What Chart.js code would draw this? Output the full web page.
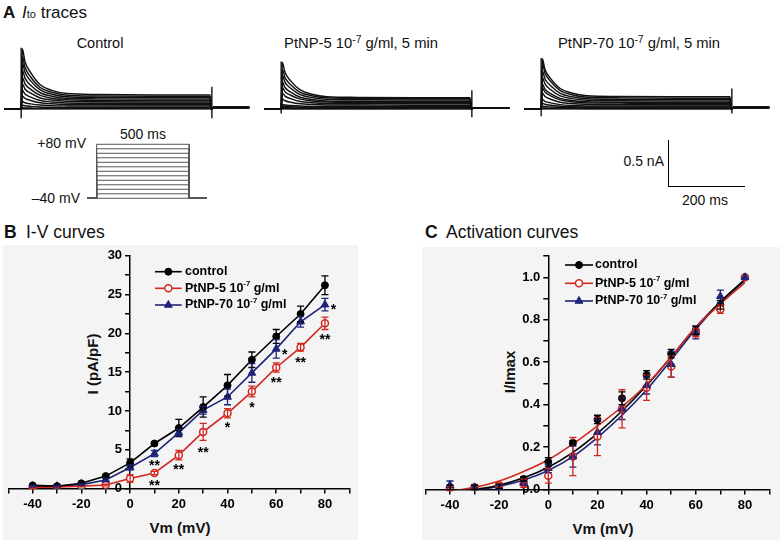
<!DOCTYPE html>
<html>
<head>
<meta charset="utf-8">
<script src="https://cdn.jsdelivr.net/npm/chart.js@4.4.1/dist/chart.umd.min.js"></script>
<style>
  body { margin: 0; width: 780px; height: 540px; background: #fff; position: relative; overflow: hidden;
         font-family: "Liberation Sans", Arial, sans-serif; color: #111; }
  .t { position: absolute; white-space: nowrap; line-height: 1; }
  .c { transform: translate(-50%, -50%); }
  .r { transform: translate(-100%, -50%); }
  .l { transform: translate(0, -50%); }
  .rot { transform: translate(-50%, -50%) rotate(-90deg); font-weight: bold; font-size: 15px; }
  .ax { font-weight: bold; font-size: 15px; }
  canvas { position: absolute; }
  .bg { position: absolute; background: #f4f4f4; }
  sup { font-size: 0.7em; vertical-align: 0; position: relative; top: -0.5em; }
</style>
</head>
<body>
<div class="bg" style="left:3px;top:245px;width:355px;height:295px"></div>
<div class="bg" style="left:422px;top:247px;width:358px;height:293px"></div>

<div class="t l" style="left:3px;top:12px;font-size:17px"><b>A</b> <i style="margin-left:2px">I</i><span style="font-size:11px">to</span> traces</div>
<div class="t c" style="left:100px;top:43px;font-size:14.5px">Control</div>
<div class="t c" style="left:361px;top:43px;font-size:14.8px">PtNP-5 10<sup>-7</sup> g/ml, 5 min</div>
<div class="t c" style="left:639px;top:43px;font-size:14.8px">PtNP-70 10<sup>-7</sup> g/ml, 5 min</div>
<div class="t r" style="left:86px;top:142.5px;font-size:14px">+80 mV</div>
<div class="t r" style="left:80px;top:198px;font-size:14px">&ndash;40 mV</div>
<div class="t c" style="left:143px;top:134px;font-size:14px">500 ms</div>
<div class="t r" style="left:664px;top:160.5px;font-size:14px">0.5 nA</div>
<div class="t c" style="left:705px;top:199.5px;font-size:14px">200 ms</div>

<div class="t l" style="left:4px;top:233px;font-size:17.5px"><b>B</b></div>
<div class="t l" style="left:26px;top:233px;font-size:17.5px">I-V curves</div>
<div class="t l" style="left:425px;top:233px;font-size:17.5px"><b>C</b></div>
<div class="t l" style="left:446px;top:233px;font-size:17.5px">Activation curves</div>
<div class="t rot" style="left:92px;top:364px">I (pA/pF)</div>
<div class="t c ax" style="left:180px;top:526.5px">Vm (mV)</div>
<div class="t rot" style="left:509px;top:372px">I/Imax</div>
<div class="t c ax" style="left:603px;top:528px">Vm (mV)</div>

<script>
// Dữ liệu
const VM = [-40, -30, -20, -10, 0, 10, 20, 30, 40, 50, 60, 70, 80];

// B: đường I-V (pA/pF)
const IV_CONTROL = [0.4, 0.3, 0.67, 1.6, 3.3, 5.8, 7.8, 10.5, 13.3, 16.6, 19.6, 22.5, 26.2];
const IV_CONTROL_SEM = [0.1, 0.1, 0.1, 0.2, 0.5, 0.2, 1.1, 1.3, 1.4, 1.0, 0.9, 1.0, 1.2];
const IV_PT5 = [0.1, 0.2, 0.3, 0.45, 1.3, 2.0, 4.3, 7.3, 9.7, 12.5, 15.6, 18.2, 21.3];
const IV_PT5_SEM = [0.1, 0.1, 0.1, 0.1, 0.5, 0.2, 0.6, 1.1, 0.6, 0.7, 0.6, 0.5, 0.8];
const IV_PT70 = [0.3, 0.3, 0.5, 1.1, 2.7, 4.5, 7.2, 10.1, 11.8, 14.9, 18.0, 21.5, 23.7];
const IV_PT70_SEM = [0.1, 0.1, 0.1, 0.2, 0.3, 0.4, 0.4, 0.5, 1.0, 1.2, 1.2, 0.7, 0.8];

// dấu sao ý nghĩa thống kê
const STAR_VM = [10, 10, 20, 30, 40, 50, 60, 63.5, 70, 83.5, 80];
const STAR_I = [3.3, 0.7, 2.8, 5.0, 8.2, 10.8, 14.0, 17.6, 16.6, 23.5, 19.6];
const STAR_TXT = ['**', '**', '**', '**', '*', '*', '**', '*', '**', '*', '**'];

// C: đường hoạt hóa (I/Imax)
const ACT_CONTROL = [0.01, 0.01, 0.015, 0.05, 0.13, 0.22, 0.33, 0.43, 0.54, 0.64, 0.75, 0.87, 1.0];
const ACT_CONTROL_SEM = [0.01, 0.01, 0.01, 0.01, 0.02, 0.01, 0.02, 0.03, 0.02, 0.02, 0.02, 0.02, 0];
const ACT_PT5 = [0.005, 0.01, 0.02, 0.03, 0.065, 0.155, 0.25, 0.38, 0.48, 0.58, 0.74, 0.85, 1.0];
const ACT_PT5_SEM = [0.01, 0.01, 0.01, 0.02, 0.035, 0.09, 0.09, 0.09, 0.06, 0.05, 0.02, 0.02, 0];
const ACT_PT70 = [0.02, 0.01, 0.01, 0.03, 0.1, 0.155, 0.27, 0.38, 0.49, 0.59, 0.74, 0.91, 1.0];
const ACT_PT70_SEM = [0.02, 0.01, 0.01, 0.01, 0.02, 0.05, 0.06, 0.05, 0.04, 0.06, 0.03, 0.03, 0];
// đường fit
const FIT_CONTROL = [-0.015, 0.0, 0.02, 0.055, 0.105, 0.175, 0.265, 0.37, 0.49, 0.625, 0.765, 0.885, 0.99];
const FIT_PT5 = [-0.01, 0.01, 0.04, 0.085, 0.14, 0.215, 0.3, 0.39, 0.495, 0.625, 0.765, 0.875, 0.975];
const FIT_PT70 = [-0.02, -0.005, 0.015, 0.045, 0.09, 0.155, 0.245, 0.35, 0.47, 0.61, 0.755, 0.88, 0.985];

// A: dòng Ito (nA) tại các thời điểm (ms)
const TRACE_T = [3, 10, 25, 50, 80, 120, 200, 350, 495];
const TRACE_CONTROL = [
  [0, 0, 0, 0, 0, 0, 0, 0, 0],
  [.004, .004, .003, .003, .003, .003, .003, .003, .003],
  [.012, .010, .009, .007, .007, .006, .006, .006, .006],
  [.04, .033, .027, .021, .018, .016, .015, .015, .015],
  [.08, .066, .054, .041, .035, .032, .030, .03, .03],
  [.14, .113, .091, .066, .055, .048, .046, .045, .045],
  [.2, .161, .127, .091, .074, .064, .061, .06, .06],
  [.27, .215, .169, .118, .095, .081, .077, .075, .075],
  [.34, .27, .21, .145, .115, .098, .093, .09, .09],
  [.42, .332, .256, .174, .137, .114, .108, .105, .105],
  [.5, .394, .302, .204, .158, .131, .124, .12, .12],
  [.57, .448, .344, .231, .179, .148, .139, .135, .135],
  [.65, .51, .39, .26, .2, .165, .155, .15, .15]
];
const TRACE_PT5 = [
  [0, 0, 0, 0, 0, 0, 0, 0, 0],
  [.003, .003, .003, .003, .003, .003, .003, .003, .003],
  [.007, .006, .005, .005, .004, .004, .004, .004, .004],
  [.014, .012, .011, .009, .009, .008, .008, .008, .008],
  [.03, .026, .022, .018, .017, .015, .015, .015, .015],
  [.047, .041, .036, .03, .027, .026, .025, .025, .025],
  [.106, .088, .072, .055, .047, .042, .041, .04, .04],
  [.17, .138, .11, .08, .067, .058, .056, .055, .055],
  [.23, .185, .147, .105, .086, .075, .072, .07, .07],
  [.29, .231, .181, .126, .101, .086, .082, .08, .08],
  [.36, .286, .222, .153, .122, .103, .098, .095, .095],
  [.425, .337, .261, .179, .142, .119, .113, .11, .11],
  [.5, .394, .302, .204, .158, .131, .124, .12, .12]
];
const TRACE_PT70 = [
  [0, 0, 0, 0, 0, 0, 0, 0, 0],
  [.003, .003, .003, .003, .003, .003, .003, .003, .003],
  [.011, .009, .008, .006, .006, .005, .005, .005, .005],
  [.03, .025, .021, .016, .014, .013, .012, .012, .012],
  [.061, .05, .04, .029, .024, .021, .02, .02, .02],
  [.102, .082, .065, .046, .037, .032, .031, .03, .03],
  [.168, .134, .104, .072, .057, .049, .046, .045, .045],
  [.229, .182, .141, .097, .077, .065, .062, .06, .06],
  [.268, .213, .165, .114, .09, .076, .072, .07, .07],
  [.34, .269, .207, .141, .111, .093, .088, .085, .085],
  [.41, .323, .249, .168, .131, .109, .103, .1, .1],
  [.49, .385, .295, .198, .153, .126, .119, .115, .115],
  [.54, .425, .327, .22, .171, .142, .134, .13, .13]
];
const ON_SPIKE_LOW = [-0.1, -0.05, -0.08];
const OFF_SPIKE = [[-0.1, 0.24], [-0.09, 0.2], [-0.05, 0.22]];
const TAIL_NA = [0.015, 0.012, 0.015];

// quy trình kích thích
const PULSE_MS = 500;
const HOLD_MV = -40;

// thanh tỷ lệ
const BAR_MS = 200;
const BAR_NA = 0.5;

const FONT = '"Liberation Sans", Arial, sans-serif';
const RED = '#d0281f';
const NAVY = '#1d2478';
const INK = '#111';

function makeCanvas(left, top, w, h) {
    const c = document.createElement('canvas');
    c.width = w; c.height = h;
    c.style.left = left + 'px'; c.style.top = top + 'px';
    c.style.width = w + 'px'; c.style.height = h + 'px';
    document.body.appendChild(c);
    return c;
}

function pts(xs, ys) {
    return xs.map((x, i) => ({ x: x, y: ys[i] }));
}

function bareOptions(xmin, xmax, ymin, ymax, pad) {
    return {
        responsive: false,
        animation: false,
        events: [],
        layout: { padding: pad || 0, autoPadding: false },
        plugins: { legend: { display: false }, tooltip: { enabled: false } },
        scales: {
            x: { type: 'linear', min: xmin, max: xmax, display: false },
            y: { type: 'linear', min: ymin, max: ymax, display: false }
        }
    };
}

// Vẽ các đường dòng điện Ito
function traceChart(left, rows, k) {
    const datasets = rows.map(r => ({
        data: [{ x: -45, y: 0 }, { x: 0, y: 0 }]
            .concat(pts(TRACE_T, r))
            .concat([{ x: PULSE_MS, y: 0 }, { x: PULSE_MS + 4, y: TAIL_NA[k] }, { x: 598, y: TAIL_NA[k] }]),
        borderColor: INK,
        borderWidth: 1.45,
        pointRadius: 0,
        cubicInterpolationMode: 'monotone'
    }));
    const top = rows[rows.length - 1][0] + 0.01;
    datasets.push({ data: [{ x: 0, y: ON_SPIKE_LOW[k] }, { x: 0, y: top }], borderColor: INK, borderWidth: 1.4, pointRadius: 0 });
    datasets.push({ data: [{ x: PULSE_MS, y: OFF_SPIKE[k][0] }, { x: PULSE_MS, y: OFF_SPIKE[k][1] }], borderColor: INK, borderWidth: 1.4, pointRadius: 0 });
    new Chart(makeCanvas(left, 44, 246, 76), {
        type: 'line',
        data: { datasets: datasets },
        options: bareOptions(-45, 600, -0.12, 0.7)
    });
}

traceChart(4, TRACE_CONTROL, 0);
traceChart(264, TRACE_PT5, 1);
traceChart(524, TRACE_PT70, 2);

// Quy trình điện áp
new Chart(makeCanvas(87, 142, 120, 58), {
    type: 'line',
    data: {
        datasets: VM.map(v => ({
            data: [{ x: -52, y: HOLD_MV }, { x: 0, y: HOLD_MV }, { x: 0, y: v }, { x: PULSE_MS, y: v },
                   { x: PULSE_MS, y: HOLD_MV }, { x: 596, y: HOLD_MV }],
            borderColor: '#555',
            borderWidth: 1,
            pointRadius: 0
        }))
    },
    options: bareOptions(-52, 596, -43.8, 85.1)
});

// Thanh tỷ lệ
new Chart(makeCanvas(667, 139, 79, 49), {
    type: 'line',
    data: {
        datasets: [{
            data: [{ x: 0, y: BAR_NA }, { x: 0, y: 0 }, { x: BAR_MS, y: 0 }],
            borderColor: '#000', borderWidth: 2, pointRadius: 0
        }]
    },
    options: bareOptions(0, BAR_MS, 0, BAR_NA, 1)
});

// Hàm vẽ chữ có số mũ
function drawRich(ctx, text, x, y, size) {
    const parts = text.split('^');
    ctx.textBaseline = 'middle';
    ctx.textAlign = 'left';
    ctx.fillStyle = '#000';
    let cx = x;
    parts.forEach((p, i) => {
        let sup = '', rest = p;
        if (i > 0) {
            const m = p.match(/^(\S+)(.*)$/);
            sup = m[1]; rest = m[2];
        }
        if (sup) {
            ctx.font = 'bold ' + (size * 0.62) + 'px ' + FONT;
            ctx.fillText(sup, cx, y - size * 0.36);
            cx += ctx.measureText(sup).width;
        }
        ctx.font = 'bold ' + size + 'px ' + FONT;
        ctx.fillText(rest, cx, y);
        cx += ctx.measureText(rest).width;
    });
}

const errorBars = {
    id: 'errorBars',
    afterDatasetsDraw(chart) {
        const ctx = chart.ctx;
        const xs = chart.scales.x, ys = chart.scales.y;
        chart.data.datasets.forEach(ds => {
            if (!ds.sem) return;
            ctx.save();
            ctx.strokeStyle = ds.borderColor;
            ctx.lineWidth = 1.3;
            ds.data.forEach((p, j) => {
                const e = ds.sem[j];
                if (!e) return;
                const px = xs.getPixelForValue(p.x);
                const top = ys.getPixelForValue(p.y + e);
                const bot = ys.getPixelForValue(p.y - e);
                ctx.beginPath();
                ctx.moveTo(px, top); ctx.lineTo(px, bot);
                ctx.moveTo(px - 3.5, top); ctx.lineTo(px + 3.5, top);
                ctx.moveTo(px - 3.5, bot); ctx.lineTo(px + 3.5, bot);
                ctx.stroke();
            });
            ctx.restore();
        });
    }
};

// Đặt trục y tại Vm = 0 (kiểu Origin); trục không chiếm chỗ trong bố cục
const yAtZero = {
    id: 'yAtZero',
    afterLayout(chart) {
        const xs = chart.scales.x, ys = chart.scales.y;
        const px = xs.getPixelForValue(0);
        ys.width = ys.$size; ys.right = px; ys.left = px - ys.$size;
        xs.height = xs.$size; xs.top = chart.chartArea.bottom; xs.bottom = xs.top + xs.$size;
    }
};

function makeLegend(cfg) {
    return {
        id: 'inlineLegend',
        afterDraw(chart) {
            const ctx = chart.ctx;
            cfg.rows.forEach((row, k) => {
                const ds = chart.data.datasets[row.ds];
                const yy = cfg.y[k];
                ctx.save();
                ctx.strokeStyle = ds.borderColor;
                ctx.lineWidth = 1.6;
                ctx.beginPath(); ctx.moveTo(cfg.x1, yy); ctx.lineTo(cfg.x2, yy); ctx.stroke();
                ctx.fillStyle = ds.pointBackgroundColor;
                ctx.strokeStyle = ds.pointBorderColor;
                ctx.lineWidth = ds.pointBorderWidth;
                Chart.helpers.drawPoint(ctx, {
                    pointStyle: ds.pointStyle, radius: ds.pointRadius,
                    borderWidth: ds.pointBorderWidth, rotation: 0
                }, (cfg.x1 + cfg.x2) / 2, yy);
                drawRich(ctx, row.text, cfg.xt, yy, cfg.size);
                ctx.restore();
            });
        }
    };
}

function makeStars(xs, ys, txt) {
    return {
        id: 'stars',
        afterDatasetsDraw(chart) {
            const ctx = chart.ctx;
            ctx.save();
            ctx.fillStyle = '#000';
            ctx.font = 'bold 14px ' + FONT;
            ctx.textAlign = 'center';
            ctx.textBaseline = 'middle';
            xs.forEach((x, i) => {
                ctx.fillText(txt[i], chart.scales.x.getPixelForValue(x), chart.scales.y.getPixelForValue(ys[i]) + 3.5);
            });
            ctx.restore();
        }
    };
}

function axis(min, max, step, pos, label) {
    return {
        type: 'linear', min: min, max: max, position: pos,
        afterFit: s => {
            if (s.isHorizontal()) { s.$size = s.height; s.height = 0; }
            else { s.$size = s.width; s.width = 0; }
        },
        border: { display: true, color: '#000', width: 1.5 },
        grid: { drawOnChartArea: false, drawTicks: true, tickLength: 5, color: '#000', lineWidth: 1.5 },
        ticks: {
            stepSize: step, autoSkip: false, maxRotation: 0, padding: 3, color: '#000',
            font: { family: FONT, size: 13, weight: 'bold' },
            callback: label
        }
    };
}

function series(label, xs, ys, sem, color, style, open) {
    return {
        label: label,
        data: pts(xs, ys),
        sem: sem,
        borderColor: color,
        borderWidth: 1.6,
        pointStyle: style,
        pointRadius: style === 'triangle' ? 4.5 : 3.5,
        pointBackgroundColor: open ? '#fff' : color,
        pointBorderColor: color,
        pointBorderWidth: open ? 1.5 : 1,
        tension: 0
    };
}

// B: I-V
const chartBOpts = bareOptions(-50, 90, 0, 30, { left: 8.3, right: 15.7, top: 10.7, bottom: 51.5 });
chartBOpts.scales = {
    x: axis(-50, 90, 10, 'bottom', v => (v % 20 === 0 ? String(v) : '')),
    y: axis(0, 30, 2.5, 'left', v => (v % 5 === 0 ? String(v) : ''))
};
new Chart(makeCanvas(0, 245, 365, 295), {
    type: 'line',
    data: {
        datasets: [
            series('control', VM, IV_CONTROL, IV_CONTROL_SEM, '#000', 'circle', false),
            series('PtNP-5', VM, IV_PT5, IV_PT5_SEM, RED, 'circle', true),
            series('PtNP-70', VM, IV_PT70, IV_PT70_SEM, NAVY, 'triangle', false)
        ]
    },
    options: chartBOpts,
    plugins: [yAtZero, errorBars, makeStars(STAR_VM, STAR_I, STAR_TXT), makeLegend({
        x1: 155, x2: 181.7, xt: 185, size: 12.5, y: [26.7, 43.3, 60],
        rows: [{ ds: 0, text: 'control' }, { ds: 1, text: 'PtNP-5 10^-7 g/ml' }, { ds: 2, text: 'PtNP-70 10^-7 g/ml' }]
    })]
});

// C: Activation
const chartCOpts = bareOptions(-50, 90, 0, 1.1, { left: 35.4, right: 10.5, top: 11.1, bottom: 50.5 });
chartCOpts.scales = {
    x: axis(-50, 90, 10, 'bottom', v => (v % 20 === 0 ? String(v) : '')),
    y: axis(0, 1.1, 0.1, 'left', v => (Math.round(v * 10) % 2 === 0 ? v.toFixed(1) : ''))
};
function fit(ys, color) {
    return { data: pts(VM, ys), borderColor: color, borderWidth: 1.6, pointRadius: 0, tension: 0.4 };
}
function dots(label, ys, sem, color, style, open) {
    const d = series(label, VM, ys, sem, color, style, open);
    d.showLine = false;
    return d;
}
new Chart(makeCanvas(390, 245, 390, 295), {
    type: 'line',
    data: {
        datasets: [
            dots('PtNP-70', ACT_PT70, ACT_PT70_SEM, NAVY, 'triangle', false),
            dots('PtNP-5', ACT_PT5, ACT_PT5_SEM, RED, 'circle', true),
            dots('control', ACT_CONTROL, ACT_CONTROL_SEM, '#000', 'circle', false),
            fit(FIT_PT5, RED),
            fit(FIT_CONTROL, '#000'),
            fit(FIT_PT70, NAVY)
        ]
    },
    options: chartCOpts,
    plugins: [yAtZero, errorBars, makeLegend({
        x1: 175, x2: 203, xt: 205, size: 12.5, y: [20, 38.3, 56],
        rows: [{ ds: 2, text: 'control' }, { ds: 1, text: 'PtNP-5 10^-7 g/ml' }, { ds: 0, text: 'PtNP-70 10^-7 g/ml' }]
    })]
});
</script>
</body>
</html>
